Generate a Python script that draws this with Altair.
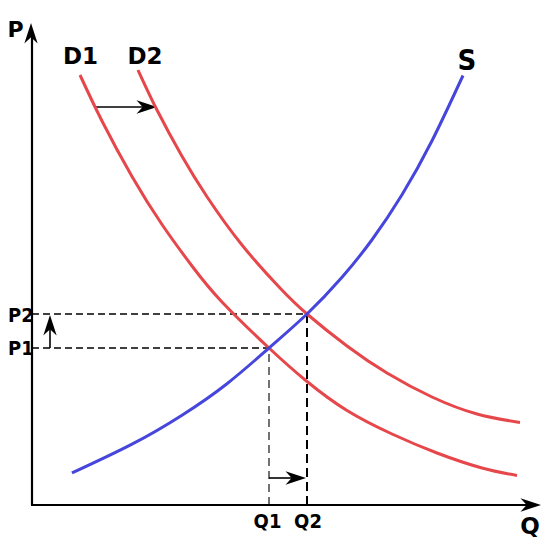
import altair as alt
import pandas as pd

# ---- data (Q, P in chart units) ----
D1_Q = [9.6, 14.0, 20.0, 26.0, 32.0, 38.0, 47.4, 55.0, 63.0, 72.0, 81.0, 90.0, 97.0]
D1_P = [86.0, 76.8, 65.7, 56.1, 47.8, 40.6, 31.4, 24.7, 18.9, 14.2, 10.4, 7.4, 5.9]

D2_Q = [21.2, 25.0, 30.0, 35.0, 42.0, 49.6, 55.0, 63.0, 71.0, 80.0, 89.0, 97.6]
D2_P = [87.0, 79.0, 69.75, 61.65, 52.0, 43.4, 38.2, 31.8, 26.4, 21.6, 18.2, 16.5]

S_Q = [8.0, 20.0, 30.0, 39.0, 47.4, 55.0, 62.0, 68.0, 74.0, 80.0, 86.2]
S_P = [6.4, 12.16, 17.96, 24.26, 31.4, 38.2, 45.55, 53.05, 62.05, 72.85, 85.9]

Q1, P1 = 47.4, 31.4
Q2, P2 = 55.0, 38.2

SHIFT_P = 79.6          # level of the D1 -> D2 arrow
SHIFT_Q = [12.6, 25.0]  # from D1 to D2
PRICE_ARROW_Q = 3.6
QTY_ARROW_P = 5.4

AXIS_P_TIP = 96.4
AXIS_Q_TIP = 101.8

RED = "#e6474b"
BLUE = "#4646dc"
FONT = "DejaVu Sans"
FONT_NARROW = "DejaVu Sans Condensed, DejaVu Sans"

# ---- build tables ----
rows = []
for name, qs, ps in [("D1", D1_Q, D1_P), ("D2", D2_Q, D2_P), ("S", S_Q, S_P)]:
    for i, (q, p) in enumerate(zip(qs, ps)):
        rows.append({"curve": name, "q": q, "p": p, "i": i})
curves = pd.DataFrame(rows)

xs = alt.Scale(domain=[-4.8, 102.0], nice=False, zero=False)
ys = alt.Scale(domain=[-7.4, 99.4], nice=False, zero=False)
X = alt.X("q:Q", scale=xs, axis=None)
Y = alt.Y("p:Q", scale=ys, axis=None)


def seg(records, **kw):
    return alt.Chart(pd.DataFrame(records)).mark_rule(**kw).encode(
        x=X, y=Y, x2="q2:Q", y2="p2:Q"
    )


HEAD = "M0,0 L-2,-0.65 L-1.4,0 L-2,0.65 Z"

# dashed guide lines
h_dash = seg(
    [{"q": 0, "p": P2, "q2": Q2, "p2": P2}, {"q": 0, "p": P1, "q2": Q1, "p2": P1}],
    color="black", strokeWidth=1.5, strokeDash=[7, 4],
)
v1_dash = seg([{"q": Q1, "p": 0, "q2": Q1, "p2": P1}],
              color="black", strokeWidth=1.1, strokeDash=[8, 5])
v2_dash = seg([{"q": Q2, "p": 0, "q2": Q2, "p2": P2}],
              color="black", strokeWidth=2, strokeDash=[9, 5])

# axes
axes = seg(
    [{"q": 0, "p": 0, "q2": 0, "p2": AXIS_P_TIP - 2},
     {"q": -0.2, "p": 0, "q2": AXIS_Q_TIP - 2, "p2": 0}],
    color="black", strokeWidth=2.2,
)

# arrow shafts
shafts = seg(
    [{"q": SHIFT_Q[0], "p": SHIFT_P, "q2": SHIFT_Q[1] - 2, "p2": SHIFT_P},
     {"q": PRICE_ARROW_Q, "p": P1, "q2": PRICE_ARROW_Q, "p2": P2 - 2},
     {"q": Q1, "p": QTY_ARROW_P, "q2": Q2 - 2, "p2": QTY_ARROW_P}],
    color="black", strokeWidth=1.6,
)

heads_df = pd.DataFrame([
    {"q": SHIFT_Q[1], "p": SHIFT_P, "a": 0},
    {"q": PRICE_ARROW_Q, "p": P2 - 0.2, "a": 270},
    {"q": Q2 - 0.2, "p": QTY_ARROW_P, "a": 0},
    {"q": -0.2, "p": AXIS_P_TIP, "a": 270},
    {"q": AXIS_Q_TIP, "p": 0, "a": 0},
])
heads = alt.Chart(heads_df).mark_point(
    shape=HEAD, size=420, filled=True, color="black", opacity=1, strokeWidth=0
).encode(x=X, y=Y, angle=alt.Angle("a:Q", scale=None))

lines = alt.Chart(curves).mark_line(strokeWidth=3, interpolate="natural").encode(
    x=X, y=Y,
    color=alt.Color("curve:N", scale=alt.Scale(domain=["D1", "D2", "S"], range=[RED, RED, BLUE]), legend=None),
    order="i:Q",
)

big_labels = pd.DataFrame([
    {"q": -3.3, "p": 93.6, "t": "P", "s": 22},
    {"q": D1_Q[0] + 0.1, "p": 88.2, "t": "D1", "s": 23},
    {"q": D2_Q[0] + 1.4, "p": 88.2, "t": "D2", "s": 23},
    {"q": 99.6, "p": -5.8, "t": "Q", "s": 23},
])
s_label = pd.DataFrame([{"q": S_Q[-1] + 0.8, "p": 87.0, "t": "S"}])
small_labels = pd.DataFrame([
    {"q": -4.8, "p": P2 - 1.5, "t": "P2"},
    {"q": -4.8, "p": P1 - 1.4, "t": "P1"},
])
q_labels = pd.DataFrame([
    {"q": Q1 - 0.3, "p": -4.6, "t": "Q1"},
    {"q": Q2 + 0.2, "p": -4.6, "t": "Q2"},
])

t_big = alt.Chart(big_labels).mark_text(
    font=FONT, fontWeight="bold", align="center", baseline="alphabetic", color="black"
).encode(x=X, y=Y, text="t:N", size=alt.Size("s:Q", scale=None))

t_s = alt.Chart(s_label).mark_text(
    font=FONT_NARROW, fontWeight="bold", fontSize=29, align="center", baseline="alphabetic", color="black"
).encode(x=X, y=Y, text="t:N")

t_small = alt.Chart(small_labels).mark_text(
    font=FONT_NARROW, fontWeight="bold", fontSize=20, align="left", baseline="alphabetic", color="black"
).encode(x=X, y=Y, text="t:N")

t_q = alt.Chart(q_labels).mark_text(
    font=FONT_NARROW, fontWeight="bold", fontSize=20, align="center", baseline="alphabetic", color="black"
).encode(x=X, y=Y, text="t:N")

chart = alt.layer(
    h_dash, v1_dash, v2_dash, axes, shafts, heads, lines, t_big, t_s, t_small, t_q
).properties(
    width=534, height=534, padding=0, autosize="none", background="white"
).configure_view(stroke=None)

chart.save("out.html", embed_options={"renderer": "svg", "actions": False})
